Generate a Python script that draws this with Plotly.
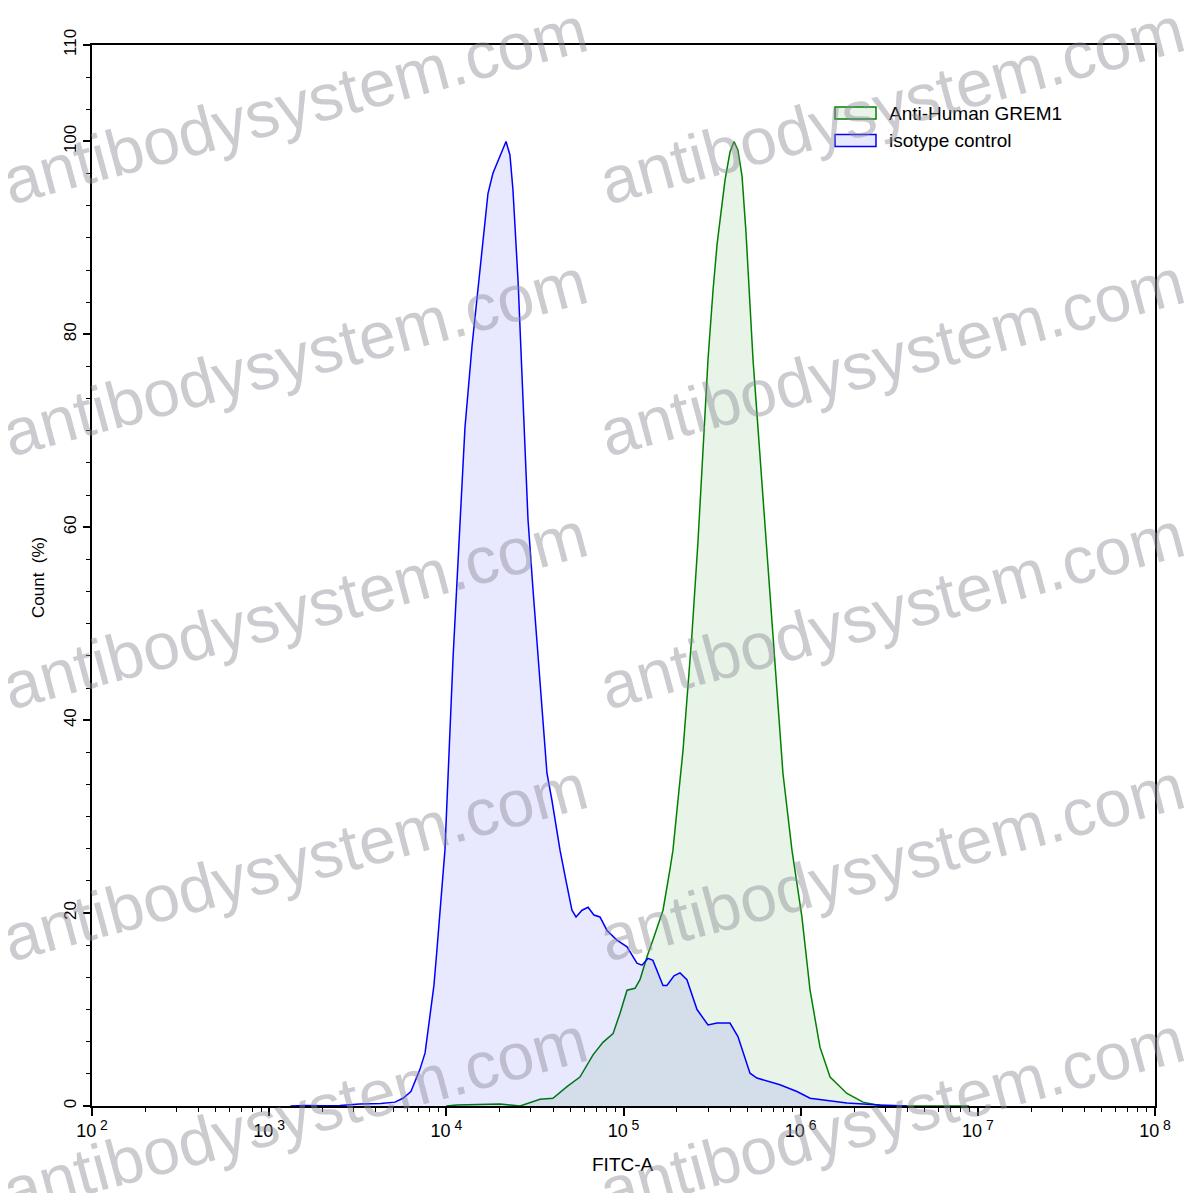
import numpy as np
import plotly.graph_objects as go

# ---- data (x given as log10 of FITC-A intensity, y = Count %) ----
iso_log10 = [3.12, 3.20, 3.30, 3.40, 3.51, 3.63, 3.71, 3.755, 3.80, 3.851, 3.88, 3.908, 3.93,
             3.947, 3.975, 3.992, 4.038, 4.077, 4.105, 4.145, 4.179, 4.213, 4.235, 4.263, 4.337,
             4.359, 4.376, 4.405, 4.433, 4.461, 4.489, 4.517, 4.546, 4.568, 4.596, 4.642, 4.675,
             4.709, 4.732, 4.766, 4.800, 4.833, 4.867, 4.907, 4.963, 5.020, 5.076, 5.104, 5.138,
             5.166, 5.223, 5.245, 5.285, 5.319, 5.358, 5.415, 5.477, 5.528, 5.601, 5.646, 5.714,
             5.753, 5.883, 5.979, 6.053, 6.261, 6.448, 6.60]
iso_count = [0.0, 0.05, 0.02, 0.05, 0.2, 0.25, 0.4, 0.8, 1.5, 3.8, 5.5, 9.2, 12.5,
             16.2, 23.0, 26.5, 46.5, 60.8, 70.3, 78.8, 85.0, 91.2, 94.6, 96.7, 100.0,
             98.6, 95.0, 85.5, 72.7, 60.8, 53.6, 46.5, 39.3, 34.5, 31.7, 26.5, 23.4,
             20.3, 19.6, 20.3, 20.6, 19.8, 19.6, 18.2, 17.2, 16.5, 14.8, 14.6, 15.3,
             15.1, 12.5, 12.5, 13.5, 13.8, 13.1, 10.0, 8.4, 8.6, 8.6, 7.2, 3.4,
             2.9, 2.2, 1.5, 0.8, 0.3, 0.1, 0.0]

grem_log10 = [4.00, 4.060, 4.303, 4.416, 4.529, 4.602, 4.681, 4.754, 4.828, 4.884, 4.941, 4.980,
              5.020, 5.065, 5.093, 5.133, 5.166, 5.223, 5.262, 5.279, 5.336, 5.386, 5.420,
              5.449, 5.477, 5.505, 5.528, 5.550, 5.573, 5.601, 5.624, 5.646, 5.669, 5.691,
              5.708, 5.731, 5.759, 5.787, 5.816, 5.844, 5.872, 5.900, 5.951, 6.007, 6.053,
              6.109, 6.166, 6.261, 6.352, 6.431, 6.50, 6.86, 6.95]
grem_count = [0.0, 0.1, 0.2, 0.0, 0.7, 0.8, 2.0, 3.0, 5.3, 6.6, 7.5, 9.6,
              12.0, 12.2, 13.1, 15.5, 17.2, 20.3, 24.5, 26.5, 36.9, 48.8, 58.4,
              67.9, 77.4, 84.5, 89.3, 92.6, 96.0, 98.9, 100.0, 99.1, 96.4, 90.7,
              84.5, 77.4, 70.3, 63.1, 56.0, 48.8, 41.7, 34.5, 26.5, 19.6, 12.0,
              6.1, 3.0, 1.3, 0.4, 0.1, 0.0, 0.05, 0.0]

x_decades = [2, 3, 4, 5, 6, 7, 8]
y_major = [0, 20, 40, 60, 80, 100, 110]
series_names = ["Anti-Human GREM1", "isotype control"]
series_lines = ["#008000", "#0000ff"]
series_fills = ["rgba(0,128,0,0.09)", "rgba(0,0,255,0.09)"]
watermark = "antibodysystem.com"

FONT = "Arial, 'Liberation Sans', sans-serif"

# page offset (default body margin) compensation
OFF = 8
W, H = 1197 - OFF, 1193 - OFF
# plot-area edges in page pixels
L, R, T, B = 92, 1155, 45, 1106
def px(xp):
    return (xp - L) / (R - L)
def py(yp):
    return (B - yp) / (B - T)

fig = go.Figure()
fig.add_trace(go.Scatter(
    x=np.power(10.0, grem_log10), y=grem_count, name=series_names[0],
    mode="lines", line=dict(color=series_lines[0], width=1.5),
    fill="tozeroy", fillcolor=series_fills[0], showlegend=False))
fig.add_trace(go.Scatter(
    x=np.power(10.0, iso_log10), y=iso_count, name=series_names[1],
    mode="lines", line=dict(color=series_lines[1], width=1.5),
    fill="tozeroy", fillcolor=series_fills[1], showlegend=False))

x_minor = [d * 10.0 ** e for e in x_decades[:-1] for d in range(2, 10)]
y_minor = [v for v in np.arange(0, 110.01, 10 / 3) if all(abs(v - m) > 0.5 for m in y_major)]

fig.update_xaxes(
    type="log", range=[2, 8], automargin=False,
    tickvals=[10.0 ** e for e in x_decades],
    ticktext=[f"10<sup><span style='font-size:14px'> {e}</span></sup>" for e in x_decades],
    ticks="outside", ticklen=8, tickwidth=1.5, tickcolor="black",
    minor=dict(tickvals=x_minor, ticks="outside", ticklen=4, tickwidth=1, tickcolor="black"),
    showline=True, linecolor="black", linewidth=1.5, mirror=True,
    showgrid=False, zeroline=False,
    tickfont=dict(family=FONT, size=18, color="black"),
)
fig.update_yaxes(
    range=[0, 110], automargin=False,
    tickvals=y_major, ticktext=[str(v) for v in y_major],
    tickangle=-90,
    ticks="outside", ticklen=7, tickwidth=1.5, tickcolor="black",
    minor=dict(tickvals=y_minor, ticks="outside", ticklen=4, tickwidth=1, tickcolor="black"),
    showline=True, linecolor="black", linewidth=1.5, mirror=True,
    showgrid=False, zeroline=False,
    tickfont=dict(family=FONT, size=17, color="black"),
)

# axis titles
fig.add_annotation(x=px(623), y=py(1164), xref="paper", yref="paper", text="FITC-A",
                   showarrow=False, font=dict(family=FONT, size=19, color="black"),
                   xanchor="center", yanchor="middle")
fig.add_annotation(x=px(39), y=py(578), xref="paper", yref="paper", text="Count\u00a0 (%)",
                   showarrow=False, textangle=-90, font=dict(family=FONT, size=17, color="black"),
                   xanchor="center", yanchor="middle")

# legend drawn as boxes + text
for i, (nm, lc, fc) in enumerate(zip(series_names, series_lines, series_fills)):
    yc = 113 + 27.5 * i
    fig.add_shape(type="rect", xref="paper", yref="paper",
                  x0=px(835), x1=px(876), y0=py(yc - 6), y1=py(yc + 6),
                  line=dict(color=lc, width=1.5), fillcolor=fc)
    fig.add_annotation(x=px(887), y=py(yc), xref="paper", yref="paper", text=nm,
                       showarrow=False, font=dict(family=FONT, size=19, color="black"),
                       xanchor="left", yanchor="middle")

# watermark text
for cx in (295, 892):
    for cy in (105, 357, 610, 862, 1115):
        fig.add_annotation(
            x=px(cx), y=py(cy), xref="paper", yref="paper",
            text=watermark, showarrow=False, textangle=-15,
            font=dict(family=FONT, size=66, color="rgba(140,140,150,0.45)"),
            xanchor="center", yanchor="middle")

fig.update_layout(
    width=W, height=H,
    margin=dict(l=L - OFF, r=(W + OFF) - R, t=T - OFF, b=(H + OFF) - B),
    plot_bgcolor="white", paper_bgcolor="white",
    font=dict(family=FONT, color="black"),
    showlegend=False,
)

fig.write_html("out.html")
